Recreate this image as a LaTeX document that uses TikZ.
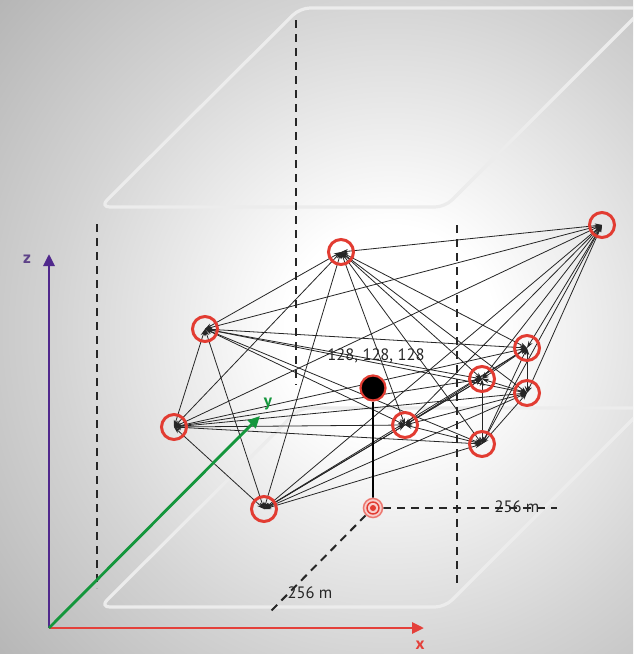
\documentclass[tikz,border=0pt]{standalone}
\usepackage{fontspec}
\setmainfont{PT Sans}
\usetikzlibrary{arrows.meta}
\pgfdeclareradialshading{bgshade}{\pgfpoint{0bp}{0bp}}{color(0bp)=(white); color(5bp)=(white); color(16bp)=(black!17); color(30bp)=(black!36); color(50bp)=(black!52)}
\definecolor{ringred}{RGB}{226,60,50}
\definecolor{zpurple}{RGB}{80,40,140}
\definecolor{ygreen}{RGB}{20,150,60}
\definecolor{xred}{RGB}{228,64,58}
\definecolor{planecol}{RGB}{236,236,236}
\tikzset{
  nd/.style={circle, draw=ringred, line width=3pt, minimum size=25pt, inner sep=0pt},
  edge/.style={draw=black!85, line width=0.8pt, {Stealth[length=7pt,width=4.5pt]}-{Stealth[length=7pt,width=4.5pt]}},
  dsh/.style={draw=black!85, line width=2pt, dash pattern=on 8pt off 6pt},
  plane/.style={draw=planecol, line width=3.2pt, rounded corners=10pt},
  axis/.style={line width=2.8pt, -{Triangle[length=12pt,width=11pt]}},
  lbl/.style={inner sep=0pt, font=\fontsize{16.5}{18}\selectfont}
}
\begin{document}
\begin{tikzpicture}[x=1pt,y=-1pt]
\useasboundingbox (0,0) rectangle (633,654);
\begin{scope}
\clip (0,0) rectangle (633,654);
\shade[shading=bgshade] (390,330) circle (520);
% planes
\draw[plane] (445,207) -- (100,207) -- (300,8) -- (644,8) -- cycle;
\draw[plane] (445,607) -- (100,607) -- (300,408) -- (644,408) -- cycle;
\end{scope}
% dashed guides
\coordinate (d1a) at (97,224); \coordinate (d1b) at (97,588);
\coordinate (d2a) at (296,20); \coordinate (d2b) at (296,385);
\coordinate (d3a) at (457,225); \coordinate (d3b) at (457,588);
\draw[dsh] (d1a) -- (d1b);
\draw[dsh] (d2a) -- (d2b);
\draw[dsh] (d3a) -- (d3b);
% network coordinates
\coordinate (A) at (341,252);
\coordinate (B) at (602,225);
\coordinate (C) at (205,329);
\coordinate (D) at (174,427);
\coordinate (E) at (264,509);
\coordinate (F) at (405,425);
\coordinate (G) at (482,379);
\coordinate (H) at (527,348);
\coordinate (I) at (527,393);
\coordinate (J) at (482,444);
\foreach \u [count=\i] in {A,B,C,D,E,F,G,H,I,J}{
  \foreach \v [count=\j] in {A,B,C,D,E,F,G,H,I,J}{
    \ifnum\j>\i \draw[edge] (\u) -- (\v); \fi
  }
}
\foreach \u in {A,B,C,D,E,F,G,H,I,J}{
  \node[nd] (n\u) at (\u) {};
}
% target and center
\node[circle, inner sep=0pt, minimum size=20pt] (T) at (373,508) {};
\coordinate (hEnd) at (557,508);
\coordinate (gEnd) at (270,612);
\draw[dsh] (T.east) -- (hEnd);
\draw[dsh] (T.south west) -- (gEnd);
\node[circle, fill=black, draw=ringred, line width=2.2pt, minimum size=25pt, inner sep=0pt] (P) at (373,388) {};
\draw[line width=1.6pt, black] (P.south) -- (T.center);
\fill[ringred!25] (T.center) circle (10.5);
\draw[ringred!70, line width=1.4pt] (T.center) circle (9.5);
\draw[ringred, line width=1.4pt] (T.center) circle (6);
\fill[ringred] (T.center) circle (3);
\node[lbl, text=black!85] (plbl) at (376,356) {128, 128, 128};
\node[lbl, text=black!85] (h256) at (517,507) {256 m};
\node[lbl, text=black!85] (g256) at (310,593) {256 m};
% axes
\coordinate (O) at (49,628);
\coordinate (Zt) at (49,254);
\coordinate (Xt) at (424,628);
\coordinate (Yt) at (260,416);
\draw[axis, zpurple] (O) -- (Zt);
\draw[axis, xred] (O) -- (Xt);
\draw[axis, ygreen] (O) -- (Yt);
\node[lbl, font=\fontsize{17}{18}\bfseries, text=zpurple!70!gray] (zl) at (27,259) {z};
\node[lbl, font=\fontsize{17}{18}\bfseries, text=xred] (xl) at (420,645) {x};
\node[lbl, font=\fontsize{17}{18}\bfseries, text=ygreen] (yl) at (268,404) {y};
\end{tikzpicture}
\end{document}
